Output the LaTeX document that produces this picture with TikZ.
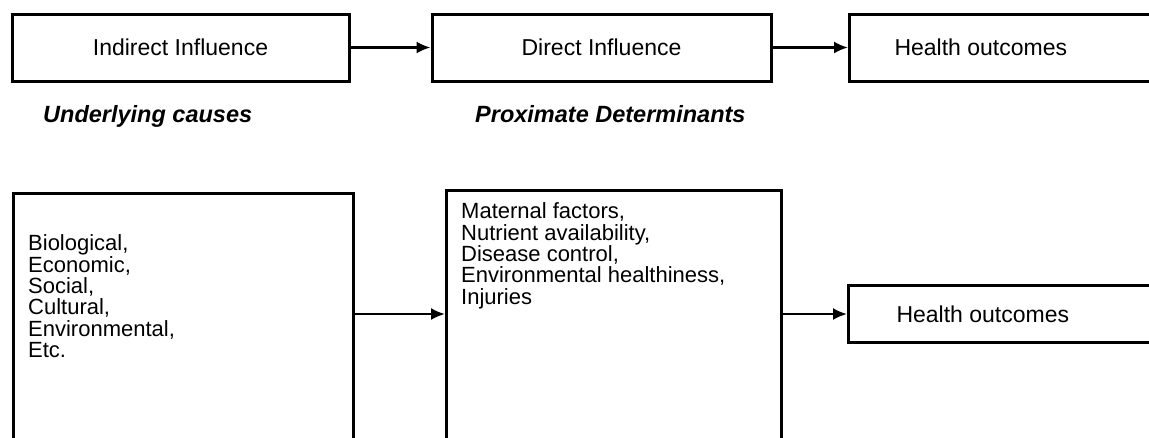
\documentclass[tikz,border=0pt]{standalone}
\usepackage{fontspec}
\setmainfont{Liberation Sans}
\usetikzlibrary{arrows.meta}
\tikzset{
  box/.style={draw, line width=3pt, inner sep=0pt, font=\fontsize{23}{21.5}\selectfont},
  arr/.style={line width=2.2pt, -{Latex[length=14pt,width=12pt]}},
  lst/.style={anchor=north west, align=left, inner sep=0pt, font=\fontsize{22}{21.4}\selectfont},
  hd/.style={anchor=base west, inner sep=0pt, font=\fontsize{23.5}{21.5}\selectfont\bfseries\itshape}
}
\begin{document}
\begin{tikzpicture}[x=1pt,y=-1pt]
  \useasboundingbox (0,0) rectangle (1149,437);
  % top row
  \node[box, minimum width=337pt, minimum height=67pt] (ind) at (180.5,47.5) {Indirect Influence};
  \node[box, minimum width=339pt, minimum height=67pt] (dir) at (601.5,47.5) {Direct Influence};
  \node[box, anchor=west, minimum width=330pt, minimum height=67pt] (out) at (848,47.5)
    {\makebox[330pt][l]{\hspace*{45pt}Health outcomes}};
  \draw[arr] (ind) -- (dir);
  \draw[arr] (dir) -- (out);
  % headings
  \node[hd] (under) at (43,122) {Underlying causes};
  \node[hd] (prox) at (475,122) {Proximate Determinants};
  % lower row
  \node[box, anchor=north west, minimum width=340pt, minimum height=300pt] (causes) at (12,192) {};
  \node[box, anchor=north west, minimum width=335pt, minimum height=300pt] (determ) at (445,189) {};
  \node[lst] (causestxt) at (28,234.5) {Biological,\\Economic,\\Social,\\Cultural,\\Environmental,\\Etc.};
  \node[lst] (determtxt) at (461,202.5) {Maternal factors,\\Nutrient availability,\\Disease control,\\Environmental healthiness,\\Injuries};
  \node[box, anchor=west, minimum width=330pt, minimum height=57pt] (out2) at (847,314)
    {\makebox[330pt][l]{\hspace*{48pt}Health outcomes}};
  \draw[arr] (causes.east |- out2) -- (determ.west |- out2);
  \draw[arr] (determ.east |- out2) -- (out2);
\end{tikzpicture}
\end{document}
